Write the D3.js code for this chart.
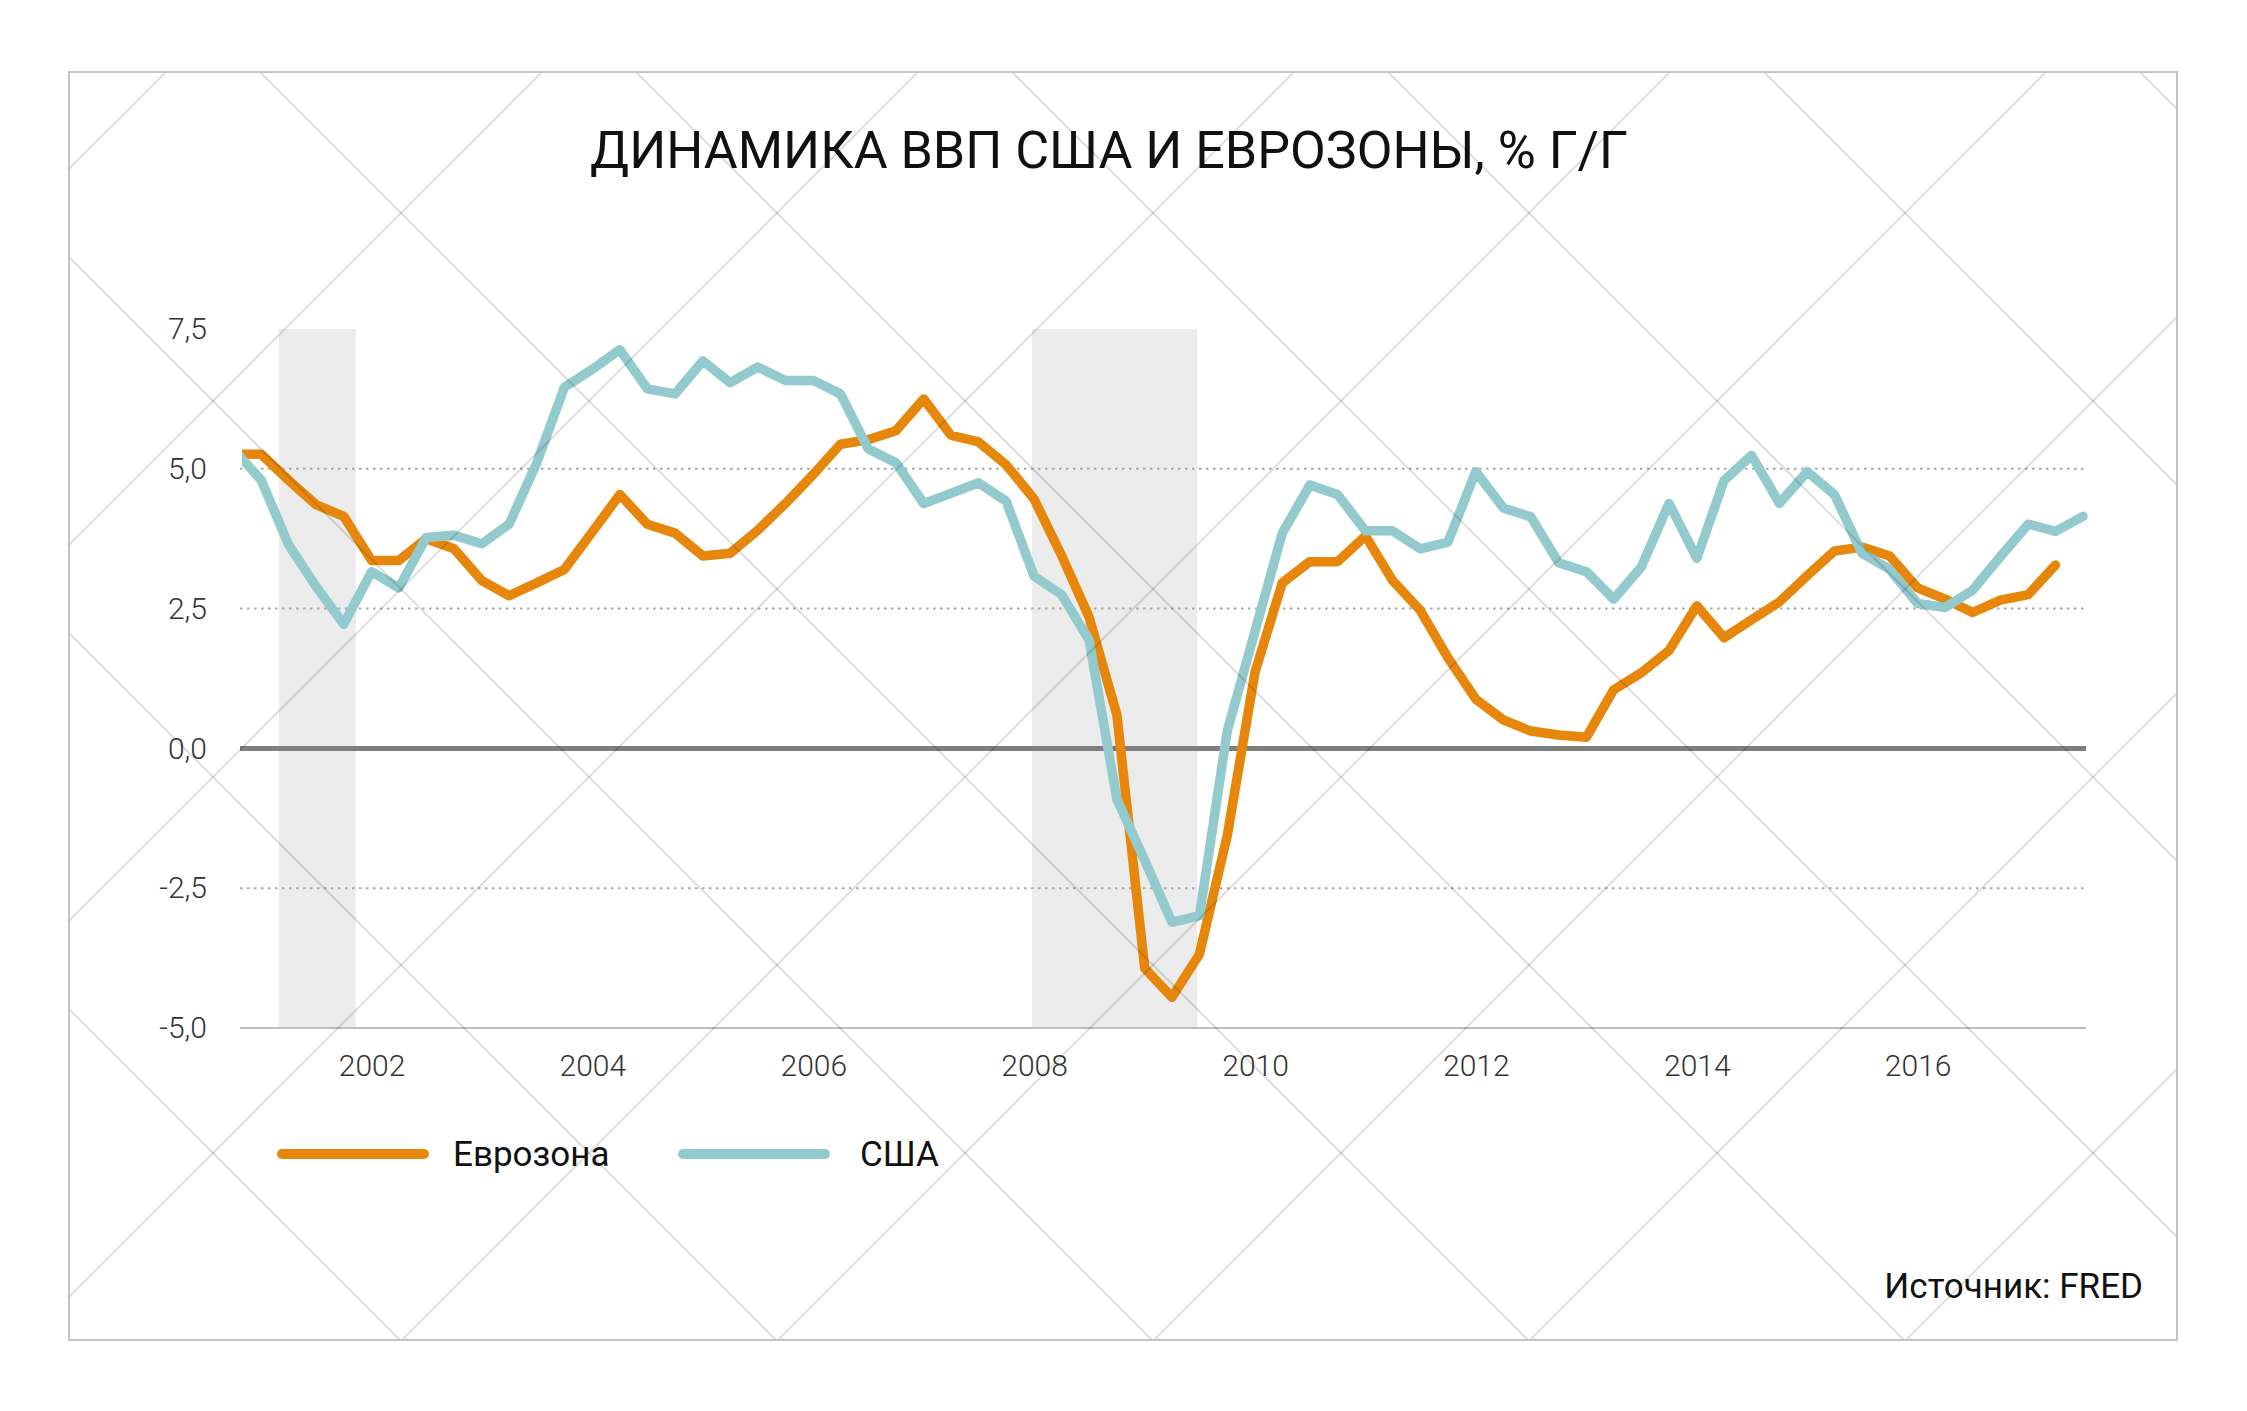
<!DOCTYPE html>
<html><head><meta charset="utf-8">
<script src="https://cdn.jsdelivr.net/npm/d3@7"></script>
<style>
html,body{margin:0;padding:0;background:#fff;}
svg{display:block;}
text{font-family:Roboto,"Noto Sans",sans-serif;}
</style></head><body>
<svg id="chart" width="2247" height="1411"></svg>
<script>
// ---- data ----
const quarters = [
 "2000-Q4",
 "2001-Q1","2001-Q2","2001-Q3","2001-Q4",
 "2002-Q1","2002-Q2","2002-Q3","2002-Q4",
 "2003-Q1","2003-Q2","2003-Q3","2003-Q4",
 "2004-Q1","2004-Q2","2004-Q3","2004-Q4",
 "2005-Q1","2005-Q2","2005-Q3","2005-Q4",
 "2006-Q1","2006-Q2","2006-Q3","2006-Q4",
 "2007-Q1","2007-Q2","2007-Q3","2007-Q4",
 "2008-Q1","2008-Q2","2008-Q3","2008-Q4",
 "2009-Q1","2009-Q2","2009-Q3","2009-Q4",
 "2010-Q1","2010-Q2","2010-Q3","2010-Q4",
 "2011-Q1","2011-Q2","2011-Q3","2011-Q4",
 "2012-Q1","2012-Q2","2012-Q3","2012-Q4",
 "2013-Q1","2013-Q2","2013-Q3","2013-Q4",
 "2014-Q1","2014-Q2","2014-Q3","2014-Q4",
 "2015-Q1","2015-Q2","2015-Q3","2015-Q4",
 "2016-Q1","2016-Q2","2016-Q3","2016-Q4",
 "2017-Q1","2017-Q2","2017-Q3"
];
const usa = [
 5.35, 4.8, 3.65, 2.9, 2.22, 3.16, 2.87, 3.77, 3.81, 3.66,
 4.01, 5.1, 6.46, 6.78, 7.13, 6.43, 6.34, 6.93, 6.54, 6.82,
 6.58, 6.58, 6.34, 5.36, 5.11, 4.38, 4.56, 4.75, 4.42, 3.08,
 2.75, 1.94, -0.91, -2.0, -3.11, -2.99, 0.31, 2.1, 3.85, 4.71,
 4.54, 3.89, 3.89, 3.57, 3.69, 4.95, 4.3, 4.14, 3.32, 3.16,
 2.67, 3.24, 4.38, 3.4, 4.79, 5.24, 4.38, 4.95, 4.54, 3.49,
 3.2, 2.59, 2.52, 2.83, 3.43, 4.01, 3.88, 4.15
];
const eurozone = [
 5.26, 5.26, 4.8, 4.36, 4.15, 3.36, 3.36, 3.75, 3.57, 3.0,
 2.73, 2.96, 3.2, 3.87, 4.54, 4.01, 3.85, 3.44, 3.49, 3.9,
 4.38, 4.9, 5.44, 5.52, 5.68, 6.25, 5.6, 5.48, 5.07, 4.46,
 3.45, 2.35, 0.6, -3.93, -4.45, -3.68, -1.56, 1.37, 2.96, 3.34,
 3.34, 3.8, 3.0, 2.47, 1.62, 0.88, 0.51, 0.31, 0.24, 0.2,
 1.05, 1.35, 1.75, 2.55, 1.98, 2.3, 2.62, 3.09, 3.53, 3.6,
 3.44, 2.87, 2.67, 2.43, 2.65, 2.75, 3.28
];
const recessions = [["2001-03-01","2001-11-10"],["2007-12-25","2009-06-24"]];
const yTicks = [-5, -2.5, 0, 2.5, 5, 7.5];
const xTickYears = ["2002","2004","2006","2008","2010","2012","2014","2016"];
const seriesNames = ["Еврозона", "США"];
const seriesColors = ["#E6870B", "#93CACE"];
const titleText = "ДИНАМИКА ВВП США И ЕВРОЗОНЫ, % Г/Г";
const sourceText = "Источник: FRED";

// ---- helpers ----
const parseQ = s => { const [y, q] = s.split("-Q"); return new Date(+y, (+q - 1) * 3, 1); };
const parseD = d3.timeParse("%Y-%m-%d");
const ru = d3.formatLocale({decimal: ",", thousands: " ", grouping: [3], currency: ["", ""], minus: "-"});
const fmt = ru.format(".1f");

const svg = d3.select("#chart");
const W = 2247, H = 1411;
const frame = {x: 69, y: 72, w: 2108, h: 1268};
const plot = {l: 240, r: 2086, t: 329, b: 1028};

const x = d3.scaleTime()
  .domain([new Date(2000, 9, 23), new Date(2017, 6, 11)])
  .range([plot.l, plot.r]);
const y = d3.scaleLinear().domain([-5, 7.5]).range([plot.b, plot.t]);

svg.append("rect").attr("width", W).attr("height", H).attr("fill", "#fff");

const defs = svg.append("defs");
defs.append("clipPath").attr("id", "plotClip").append("rect")
  .attr("x", plot.l + 2).attr("y", 250).attr("width", plot.r - plot.l + 20).attr("height", 850);
defs.append("clipPath").attr("id", "frameClip").append("rect")
  .attr("x", frame.x).attr("y", frame.y).attr("width", frame.w).attr("height", frame.h);

// recession shading
svg.append("g").selectAll("rect").data(recessions).join("rect")
  .attr("x", d => x(parseD(d[0])))
  .attr("width", d => x(parseD(d[1])) - x(parseD(d[0])))
  .attr("y", y(7.5)).attr("height", y(-5) - y(7.5))
  .attr("fill", "#ececec");

// gridlines (dotted)
svg.append("g").selectAll("line").data(yTicks.filter(v => v !== 0 && v !== -5 && v !== 7.5)).join("line")
  .attr("x1", plot.l).attr("x2", plot.r)
  .attr("y1", d => y(d)).attr("y2", d => y(d))
  .attr("stroke", "#a8a8a8").attr("stroke-width", 2).attr("stroke-dasharray", "2.5,4.5");

// bottom axis line
svg.append("line").attr("x1", plot.l).attr("x2", plot.r)
  .attr("y1", y(-5)).attr("y2", y(-5)).attr("stroke", "#bdbdbd").attr("stroke-width", 2);

// zero line
svg.append("line").attr("x1", plot.l).attr("x2", plot.r)
  .attr("y1", y(0)).attr("y2", y(0)).attr("stroke", "#7f7f7f").attr("stroke-width", 5);

// y axis labels
const yAxis = svg.append("g").attr("transform", `translate(${plot.l},0)`)
  .call(d3.axisLeft(y).tickValues(yTicks).tickFormat(fmt).tickSize(0).tickPadding(33));
yAxis.select(".domain").remove();
yAxis.selectAll("text").attr("font-size", 30).attr("font-weight", 300)
  .attr("fill", "#333").attr("font-family", "Roboto, 'Noto Sans', sans-serif");

// x axis labels
const xAxis = svg.append("g").attr("transform", `translate(0,${plot.b})`)
  .call(d3.axisBottom(x).tickValues(xTickYears.map(s => new Date(+s, 0, 1)))
    .tickFormat(d3.timeFormat("%Y")).tickSize(0).tickPadding(27));
xAxis.select(".domain").remove();
xAxis.selectAll("text").attr("font-size", 30).attr("font-weight", 300)
  .attr("fill", "#333").attr("font-family", "Roboto, 'Noto Sans', sans-serif");

// series lines
const dates = quarters.map(parseQ);
const series = [
  {name: seriesNames[0], color: seriesColors[0], values: eurozone},
  {name: seriesNames[1], color: seriesColors[1], values: usa}
];
const line = d3.line().x(d => x(d.date)).y(d => y(d.value));
svg.append("g").attr("clip-path", "url(#plotClip)")
  .selectAll("path").data(series).join("path")
  .attr("d", s => line(s.values.map((v, i) => ({date: dates[i], value: v}))))
  .attr("fill", "none").attr("stroke", s => s.color).attr("stroke-width", 9.5)
  .attr("stroke-linejoin", "round").attr("stroke-linecap", "round");

// title
svg.append("text").attr("x", 1109).attr("y", 168).attr("text-anchor", "middle")
  .attr("font-size", 52).attr("fill", "#111").text(titleText);

// legend
const legend = svg.append("g");
const legX = [282, 683];
const legTextX = [453, 860];
series.forEach((s, i) => {
  legend.append("line").attr("x1", legX[i]).attr("x2", legX[i] + 142)
    .attr("y1", 1154).attr("y2", 1154)
    .attr("stroke", s.color).attr("stroke-width", 10).attr("stroke-linecap", "round");
  legend.append("text").attr("x", legTextX[i]).attr("y", 1154).attr("dy", "0.35em")
    .attr("font-size", 35).attr("fill", "#111").text(s.name);
});

// source
svg.append("text").attr("x", 2143).attr("y", 1298).attr("text-anchor", "end")
  .attr("font-size", 35).attr("fill", "#111").text(sourceText);

// watermark lattice (decorative diagonal lines)
const lat = svg.append("g").attr("clip-path", "url(#frameClip)")
  .attr("stroke", "#000").attr("stroke-opacity", 0.13).attr("stroke-width", 2);
d3.range(-5, 7).forEach(k => {
  const c = 188 + 376 * k;
  lat.append("line").attr("x1", c + frame.y).attr("y1", frame.y)
    .attr("x2", c + frame.y + frame.h).attr("y2", frame.y + frame.h);
});
d3.range(-3, 10).forEach(k => {
  const c = 614 + 376 * k;
  lat.append("line").attr("x1", c - frame.y).attr("y1", frame.y)
    .attr("x2", c - frame.y - frame.h).attr("y2", frame.y + frame.h);
});

// frame
svg.append("rect").attr("x", frame.x).attr("y", frame.y).attr("width", frame.w).attr("height", frame.h)
  .attr("fill", "none").attr("stroke", "#c4c4c4").attr("stroke-width", 2);
</script>
</body></html>
